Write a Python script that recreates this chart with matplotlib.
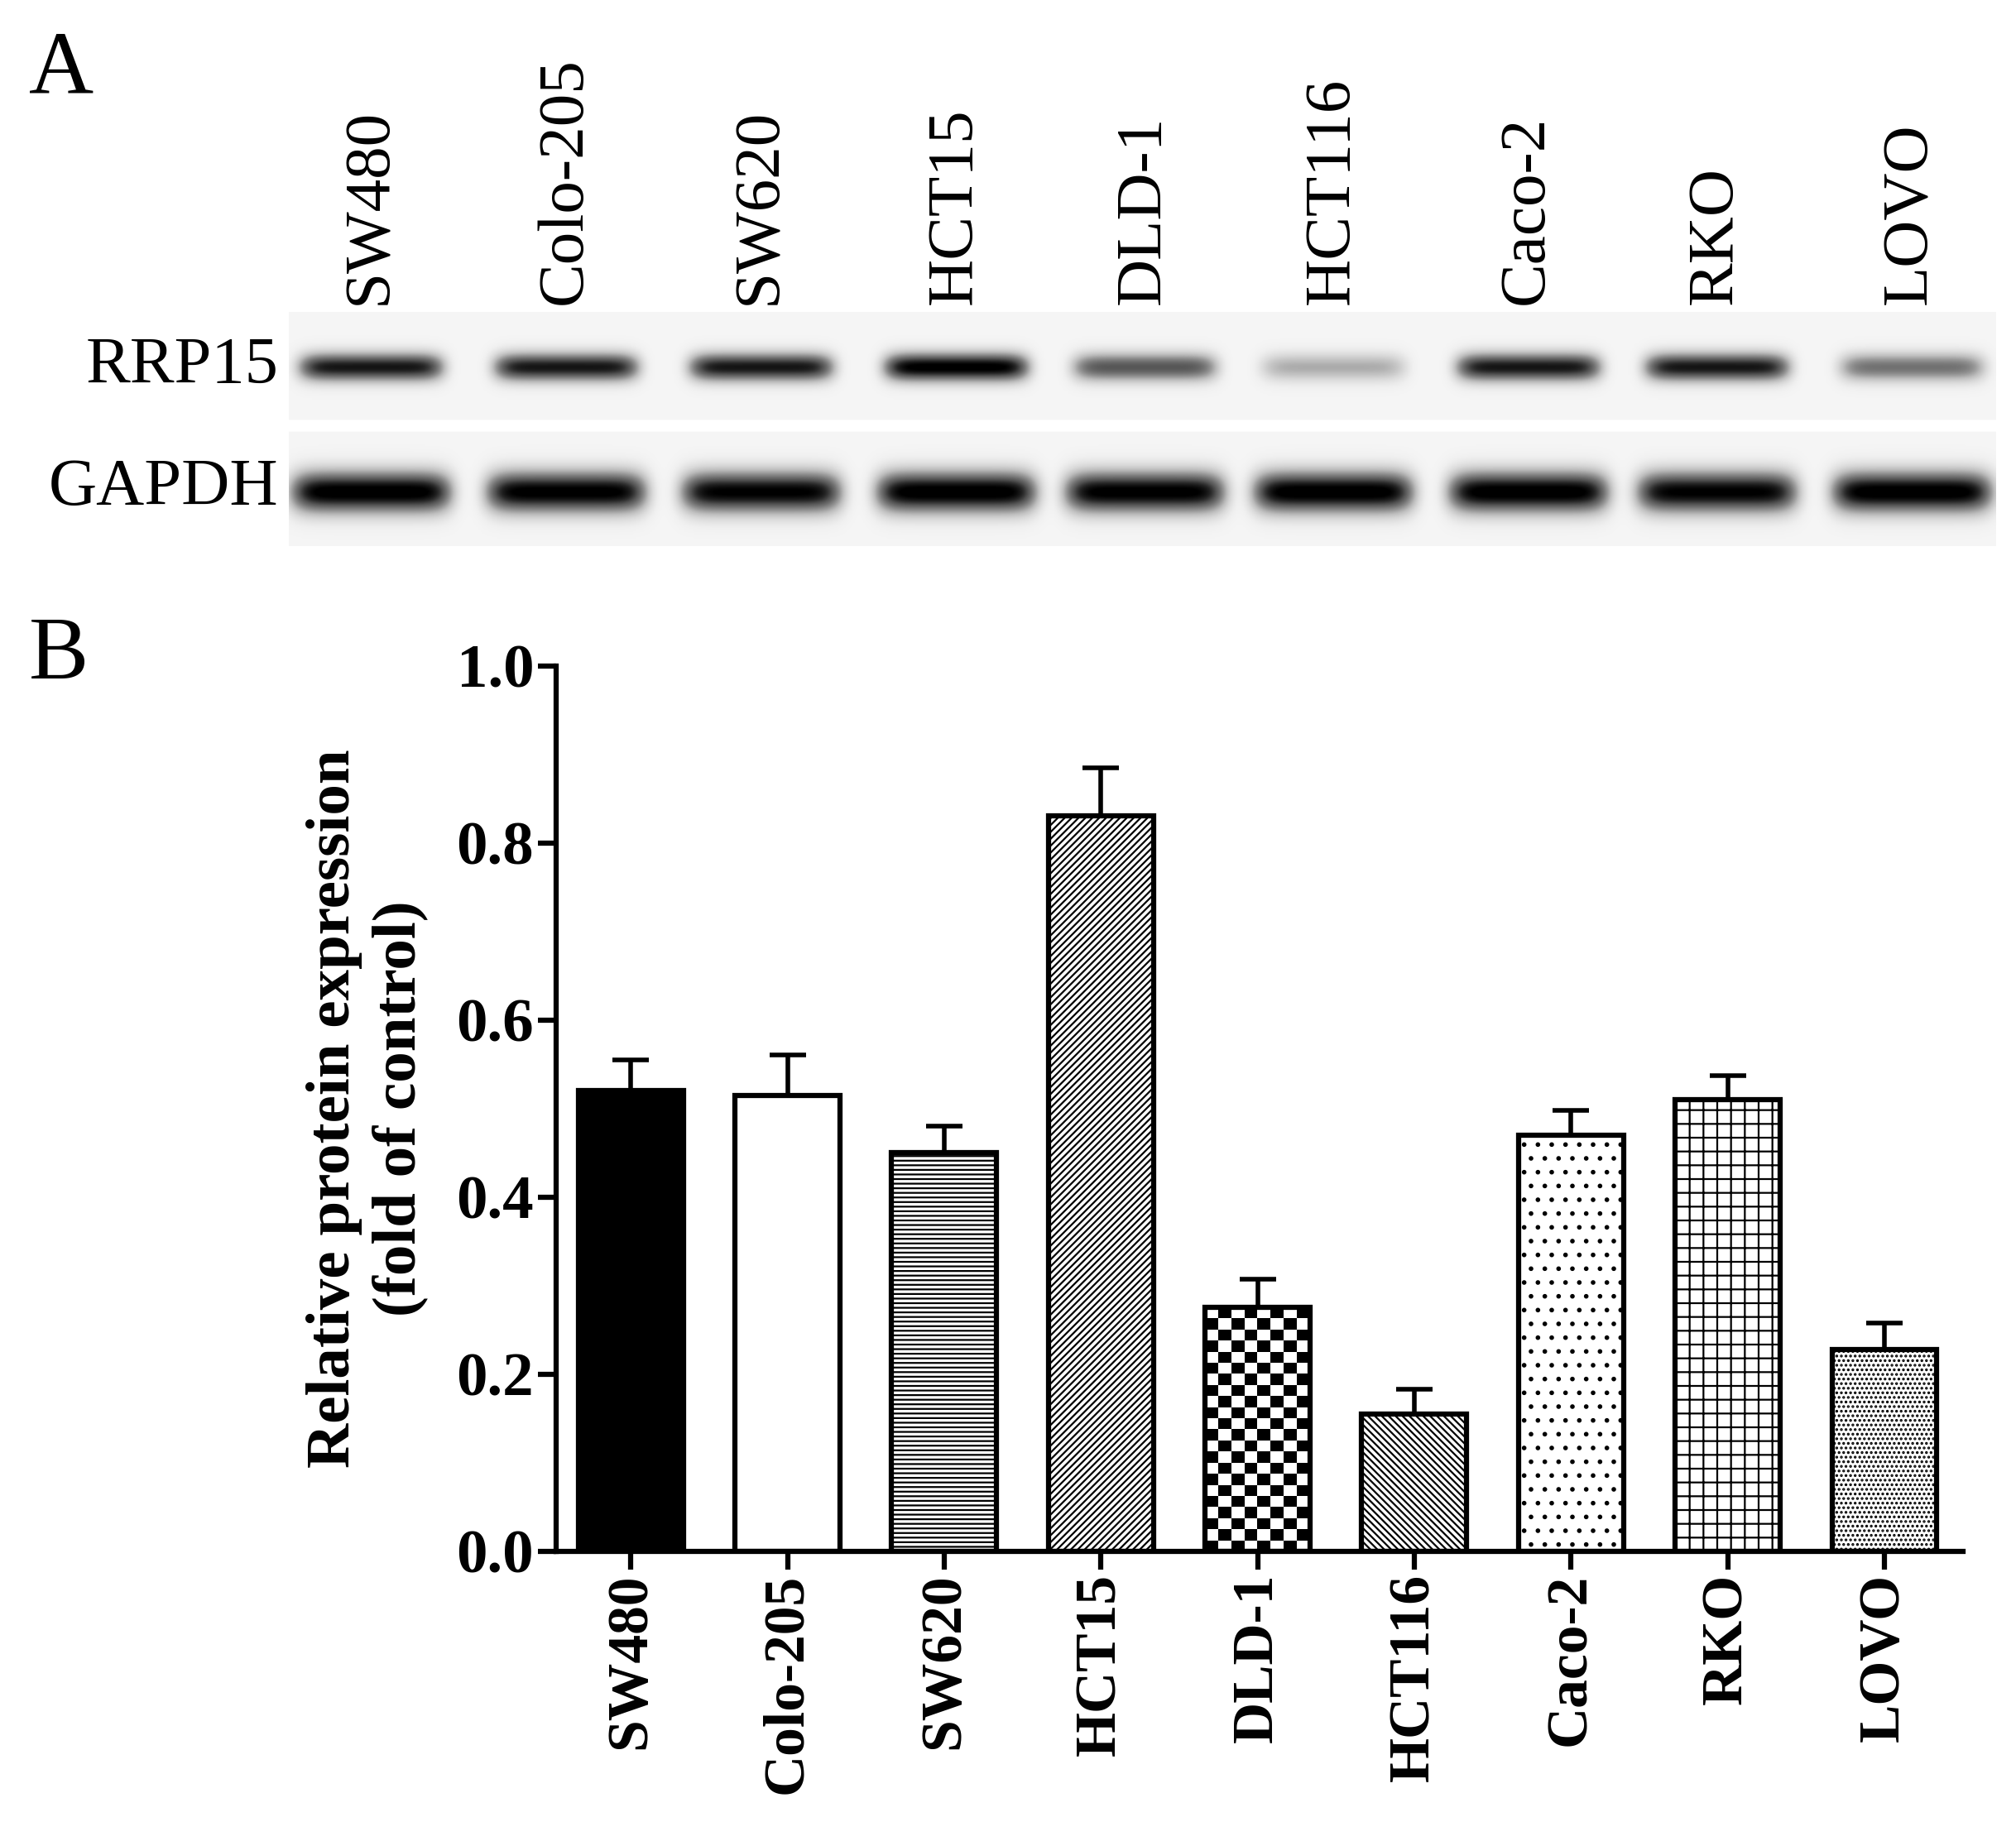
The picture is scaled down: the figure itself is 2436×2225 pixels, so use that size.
import numpy as np
import matplotlib
matplotlib.use("Agg")
import matplotlib.pyplot as plt

plt.rcParams["font.family"] = ["Liberation Serif", "DejaVu Serif"]
plt.rcParams["hatch.linewidth"] = 1.6

lanes = ["SW480", "Colo-205", "SW620", "HCT15", "DLD-1", "HCT116", "Caco-2", "RKO", "LOVO"]
# band darkness (0..1)
rrp15_band = [0.85, 0.85, 0.85, 0.95, 0.65, 0.35, 0.85, 0.85, 0.55]
gapdh_band = [0.97, 0.95, 0.93, 0.97, 0.95, 0.97, 0.97, 0.93, 0.97]
expression = [0.52, 0.515, 0.45, 0.83, 0.275, 0.155, 0.47, 0.51, 0.228]
sem = [0.035, 0.045, 0.03, 0.055, 0.032, 0.028, 0.028, 0.027, 0.03]
hatches = [None, None, "---", "////", "checker", "\\\\\\\\", ".", "+", "..."]
fills = ["black"] + ["white"] * 8

W, H = 1551, 1416
fig = plt.figure(figsize=(24.36, 22.25), dpi=100)

def fx(x):
    return x / W

def fy(y):
    return 1 - y / H

# ---- panel A: blot ----
lane_x = [285, 435, 585, 735, 880, 1025, 1175, 1320, 1470]
axb = fig.add_axes([fx(222), fy(420), fx(1535) - fx(222), fy(240) - fy(420)])
xs = np.arange(222, 1535)
ys = np.arange(240, 420)
X, Y = np.meshgrid(xs, ys)
img = np.full(X.shape, 0.08)
for cx, a, b in zip(lane_x, rrp15_band, gapdh_band):
    img += a * np.exp(-((X - cx) / 56.0) ** 8) * np.exp(-((Y - 282) / 11.0) ** 2)
    img += b * np.exp(-((X - cx) / 62.0) ** 8) * np.exp(-((Y - 378) / 16.0) ** 2)
img[(Y > 322) & (Y < 332)] = 0.0
axb.imshow(np.clip(img, 0, 1), cmap="Greys", vmin=0, vmax=1, aspect="auto",
           extent=[222, 1535, 420, 240], interpolation="bilinear")
axb.set_xlim(222, 1535)
axb.set_ylim(420, 240)
axb.axis("off")
for cx, name in zip(lane_x, lanes):
    fig.text(fx(cx), fy(234), name, rotation=90, ha="center", va="bottom", fontsize=57)
fig.text(fx(214), fy(282), "RRP15", ha="right", va="center", fontsize=58)
fig.text(fx(214), fy(376), "GAPDH", ha="right", va="center", fontsize=58)
fig.text(fx(22), fy(55), "A", ha="left", va="center", fontsize=78)
fig.text(fx(22), fy(505), "B", ha="left", va="center", fontsize=78)

# ---- panel B: bars ----
ax = fig.add_axes([fx(428), fy(1193), fx(1510) - fx(428), fy(512) - fy(1193)])
pos = np.arange(len(lanes))
ax.errorbar(pos, expression, yerr=[np.zeros(len(sem)), sem], fmt="none",
            ecolor="black", elinewidth=4, capsize=16, capthick=4, zorder=1)
bars = ax.bar(pos, expression, width=0.67, color=fills, edgecolor="black",
              linewidth=4.5, zorder=2)
for bar, h in zip(bars, hatches):
    if h == "checker":
        x0, y0 = bar.get_x(), bar.get_y()
        w, hh = bar.get_width(), bar.get_height()
        cb = (np.add.outer(np.arange(22), np.arange(8)) % 2).astype(float)
        im = ax.imshow(cb, cmap="Greys", vmin=0, vmax=1, extent=[x0, x0 + w, y0, y0 + hh],
                       aspect="auto", interpolation="nearest", zorder=2.5)
        im.set_clip_path(bar)
        bar.set_zorder(3)
        bar.set_facecolor("none")
    elif h:
        bar.set_hatch(h)
ax.set_xlim(-0.475, 8.5)
ax.set_ylim(0, 1.0)
ax.set_yticks([0.0, 0.2, 0.4, 0.6, 0.8, 1.0])
ax.set_yticklabels(["0.0", "0.2", "0.4", "0.6", "0.8", "1.0"], fontsize=54, fontweight="bold")
ax.set_xticks(pos)
ax.set_xticklabels(lanes, rotation=90, fontsize=50, fontweight="bold")
ax.tick_params(width=4.5, length=16)
for s in ["top", "right"]:
    ax.spines[s].set_visible(False)
for s in ["left", "bottom"]:
    ax.spines[s].set_linewidth(4.5)
ax.set_ylabel("Relative protein expression\n(fold of control)", fontsize=54,
              fontweight="bold", labelpad=25)

fig.savefig("out.png", dpi=100)
